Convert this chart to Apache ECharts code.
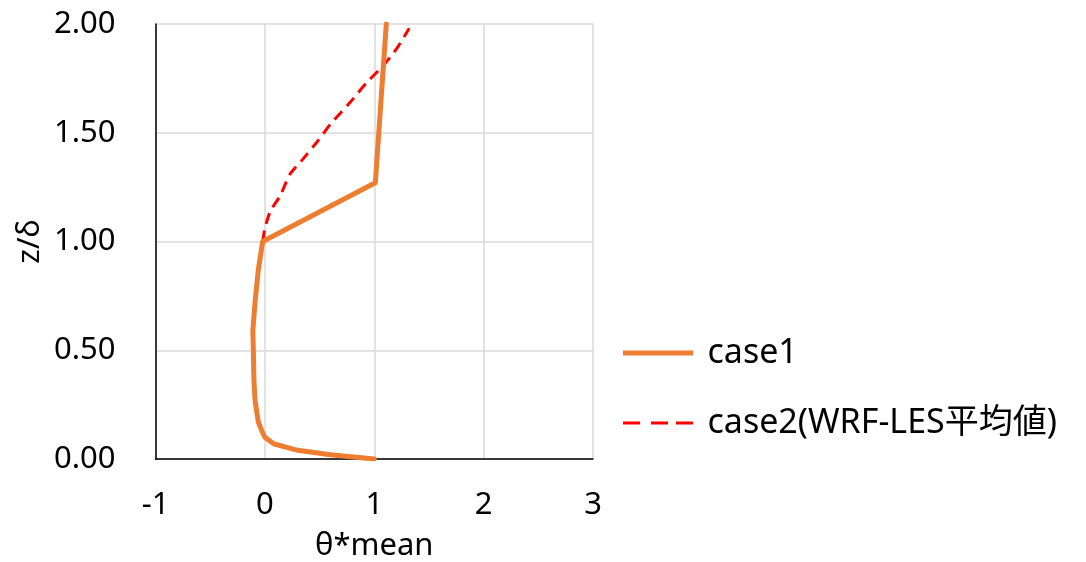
<!DOCTYPE html>
<html lang="ja">
<head>
    <meta charset="UTF-8">
    <title>θ*mean profile</title>
    <script src="https://cdn.jsdelivr.net/npm/echarts@6/dist/echarts.min.js"></script>
    <style>
        * { margin: 0; padding: 0; }
        body { background-color: #fff; }
        #box1 { width: 1086px; height: 562px; }
    </style>
</head>
<body>
    <div id="box1"></div>
    <script>
        // case1: θ*mean (x) against z/δ (y)
        var case1Theta = [1.00, 0.60, 0.30, 0.08, 0.00, -0.02, -0.06, -0.09, -0.10, -0.105, -0.11, -0.09, -0.06, -0.02, 1.01, 1.11];
        var case1Z     = [0.00, 0.02, 0.04, 0.07, 0.10, 0.12, 0.17, 0.27, 0.36, 0.49, 0.59, 0.72, 0.87, 1.00, 1.27, 2.00];

        // case2 (WRF-LES mean), only visible above z/δ = 1
        var case2Theta = [-0.02, 0.00, 0.05, 0.14, 0.23, 0.35, 0.48, 0.60, 0.78, 0.93, 1.085, 1.21, 1.32];
        var case2Z     = [1.00, 1.06, 1.14, 1.21, 1.31, 1.38, 1.46, 1.54, 1.64, 1.73, 1.81, 1.89, 1.98];

        var seriesNames = ['case1', 'case2(WRF-LES平均値)'];

        function pairs(xs, ys) {
            var out = [];
            for (var i = 0; i < xs.length; i++) {
                out.push([xs[i], ys[i]]);
            }
            return out;
        }

        var font = "'Noto Sans', 'Noto Sans CJK JP', sans-serif";

        // legend icons drawn as paths so they look like the lines (no marker dot)
        var solidIcon = 'path://M0,0h70v5h-70z';
        var dashIcon = 'path://M0,1h17v3h-17z M28,1h17v3h-17z M53,1h17v3h-17z M0,0h0.05v0.05h-0.05z M69.95,4.95h0.05v0.05h-0.05z';

        var option = {
            animation: false,
            textStyle: { fontFamily: font, fontSize: 31, color: '#000' },
            grid: { left: 155.5, right: 493, top: 24, bottom: 103, containLabel: false, outerBoundsMode: 'none' },
            legend: {
                orient: 'vertical',
                left: 618,
                top: 328,
                itemWidth: 71,
                itemHeight: 5,
                itemGap: 30,
                data: [
                    { name: seriesNames[0], icon: solidIcon },
                    { name: seriesNames[1], icon: dashIcon }
                ],
                textStyle: { fontFamily: font, fontSize: 34, lineHeight: 40, color: '#000', padding: [0, 0, 0, 9] }
            },
            xAxis: {
                type: 'value',
                min: -1,
                max: 3,
                interval: 1,
                name: 'θ*mean',
                nameLocation: 'middle',
                nameGap: 72,
                nameTextStyle: { fontFamily: font, fontSize: 31, color: '#000' },
                axisLine: { onZero: false, lineStyle: { color: '#000', width: 1.5 } },
                axisTick: { show: false },
                axisLabel: { margin: 31, fontFamily: font, fontSize: 31, color: '#000' },
                splitLine: { show: true, lineStyle: { color: '#d9d9d9', width: 1.5 } }
            },
            yAxis: {
                type: 'value',
                min: 0,
                max: 2,
                interval: 0.5,
                name: 'z/δ',
                nameLocation: 'middle',
                nameGap: 110,
                nameTextStyle: { fontFamily: font, fontSize: 31, color: '#000' },
                axisLine: { show: true, onZero: false, lineStyle: { color: '#000', width: 1.5 } },
                axisTick: { show: false },
                axisLabel: {
                    margin: 40,
                    fontFamily: font,
                    fontSize: 31,
                    color: '#000',
                    formatter: function (v) { return v.toFixed(2); }
                },
                splitLine: { show: true, lineStyle: { color: '#d9d9d9', width: 1.5 } }
            },
            series: [
                {
                    name: seriesNames[1],
                    type: 'line',
                    symbol: 'none',
                    smooth: 0.2,
                    z: 2,
                    lineStyle: { color: '#ff0000', width: 3, type: [11, 7] },
                    itemStyle: { color: '#ff0000' },
                    data: pairs(case2Theta, case2Z)
                },
                {
                    name: seriesNames[0],
                    type: 'line',
                    symbol: 'none',
                    z: 3,
                    lineStyle: { color: '#ed7d31', width: 5, cap: 'round', join: 'round' },
                    itemStyle: { color: '#ed7d31' },
                    data: pairs(case1Theta, case1Z)
                }
            ]
        };

        echarts.init(document.querySelector('#box1')).setOption(option);
    </script>
</body>
</html>
